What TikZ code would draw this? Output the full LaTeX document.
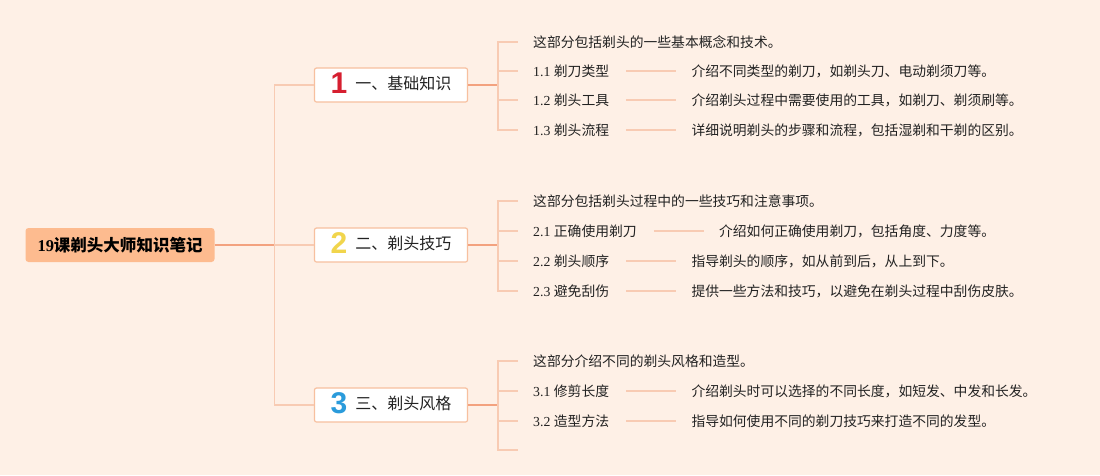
\documentclass[tikz,border=0pt]{standalone}
\usepackage{fontspec}
\setmainfont{Liberation Serif}
\newfontfamily\cjk{Noto Sans CJK SC}
\newfontfamily\iconfont{Liberation Sans}
\usetikzlibrary{positioning}

\definecolor{bgpeach}{HTML}{FEF0E6}
\definecolor{rootfill}{HTML}{FDBB8F}
\definecolor{mainline}{HTML}{F3A27F}
\definecolor{subline}{HTML}{F8CBB3}
\definecolor{boxline}{HTML}{F7C09F}
\definecolor{inkgray}{HTML}{222222}
\definecolor{numred}{HTML}{D61F30}
\definecolor{numyellow}{HTML}{F1D54C}
\definecolor{numblue}{HTML}{2A9BDB}

\newcommand{\numicon}[2]{\raisebox{-4.5pt}{\smash{\iconfont\bfseries\fontsize{30}{30}\selectfont\color{#1}#2}}}

\begin{document}
\begin{tikzpicture}[x=1pt, y=-1pt,
    node distance=82pt,
    root/.style={rectangle, fill=rootfill, rounded corners=3pt, minimum width=189pt,
                 minimum height=34pt, font=\fontsize{16.5}{20}\selectfont\bfseries, text=black},
    branch/.style={rectangle, draw=boxline, line width=1.2pt, fill=white, rounded corners=2pt,
                   minimum width=153pt, minimum height=34pt, font=\fontsize{16}{19}\selectfont\cjk,
                   text=inkgray},
    topic/.style={anchor=west, inner xsep=0pt, inner ysep=1pt, text height=12pt, text depth=2pt,
                  font=\fontsize{13.8}{16}\selectfont, text=inkgray},
    note/.style={topic, font=\fontsize{13.8}{16}\selectfont\cjk},
    trunk/.style={draw=mainline, line width=1.6pt},
    twig/.style={draw=subline, line width=1.4pt},
    link/.style={twig, shorten <=17pt, shorten >=15pt}
  ]
    \useasboundingbox (0,0) rectangle (1100,475);
    \fill[bgpeach] (0,0) rectangle (1100,475);

    % root and main branches
    \node[root] (root) at (120,245) {19{\cjk 课剃头大师知识笔记}};
    \node[branch] (b1) at (391,85) {\numicon{numred}{1}\hspace{8pt}一、基础知识};
    \node[branch] (b2) at (391,245) {\numicon{numyellow}{2}\hspace{8pt}二、剃头技巧};
    \node[branch] (b3) at (391,405) {\numicon{numblue}{3}\hspace{8pt}三、剃头风格};

    % part 1
    \node[note] (t1) at (533,42) {这部分包括剃头的一些基本概念和技术。};
    \node[topic] (t11) at (533,71) {1.1 {\cjk 剃刀类型}};
    \node[topic] (t12) at (533,100) {1.2 {\cjk 剃头工具}};
    \node[topic] (t13) at (533,130) {1.3 {\cjk 剃头流程}};
    \node[note, right=of t11] (d11) {介绍不同类型的剃刀，如剃头刀、电动剃须刀等。};
    \node[note, right=of t12] (d12) {介绍剃头过程中需要使用的工具，如剃刀、剃须刷等。};
    \node[note, right=of t13] (d13) {详细说明剃头的步骤和流程，包括湿剃和干剃的区别。};

    % part 2
    \node[note] (t2) at (533,201) {这部分包括剃头过程中的一些技巧和注意事项。};
    \node[topic] (t21) at (533,231) {2.1 {\cjk 正确使用剃刀}};
    \node[topic] (t22) at (533,261) {2.2 {\cjk 剃头顺序}};
    \node[topic] (t23) at (533,291) {2.3 {\cjk 避免刮伤}};
    \node[note, right=of t21] (d21) {介绍如何正确使用剃刀，包括角度、力度等。};
    \node[note, right=of t22] (d22) {指导剃头的顺序，如从前到后，从上到下。};
    \node[note, right=of t23] (d23) {提供一些方法和技巧，以避免在剃头过程中刮伤皮肤。};

    % part 3
    \node[note] (t3) at (533,361) {这部分介绍不同的剃头风格和造型。};
    \node[topic] (t31) at (533,391) {3.1 {\cjk 修剪长度}};
    \node[topic] (t32) at (533,421) {3.2 {\cjk 造型方法}};
    \coordinate (t33) at (518,450);
    \node[note, right=of t31] (d31) {介绍剃头时可以选择的不同长度，如短发、中发和长发。};
    \node[note, right=of t32] (d32) {指导如何使用不同的剃刀技巧来打造不同的发型。};

    % connectors
    \draw[trunk] (root.east) -- ++(60,0) coordinate (r0);
    \foreach \b in {b1, b2, b3}
      \draw[twig] (r0) |- (\b.west);
    \draw[trunk] (b1.east) -- ++(30,0) coordinate (v1);
    \draw[trunk] (b2.east) -- ++(30,0) coordinate (v2);
    \draw[trunk] (b3.east) -- ++(30,0) coordinate (v3);
    \foreach \t in {t1, t11, t12, t13}
      \draw[twig] (v1) |- ([xshift=-15pt]\t.west);
    \foreach \t in {t2, t21, t22, t23}
      \draw[twig] (v2) |- ([xshift=-15pt]\t.west);
    \foreach \t in {t3, t31, t32}
      \draw[twig] (v3) |- ([xshift=-15pt]\t.west);
    \draw[twig] (v3) |- (t33);
    \foreach \a/\b in {t11/d11, t12/d12, t13/d13, t21/d21, t22/d22, t23/d23, t31/d31, t32/d32}
      \draw[link] (\a) -- (\b);
  \end{tikzpicture}
\end{document}
